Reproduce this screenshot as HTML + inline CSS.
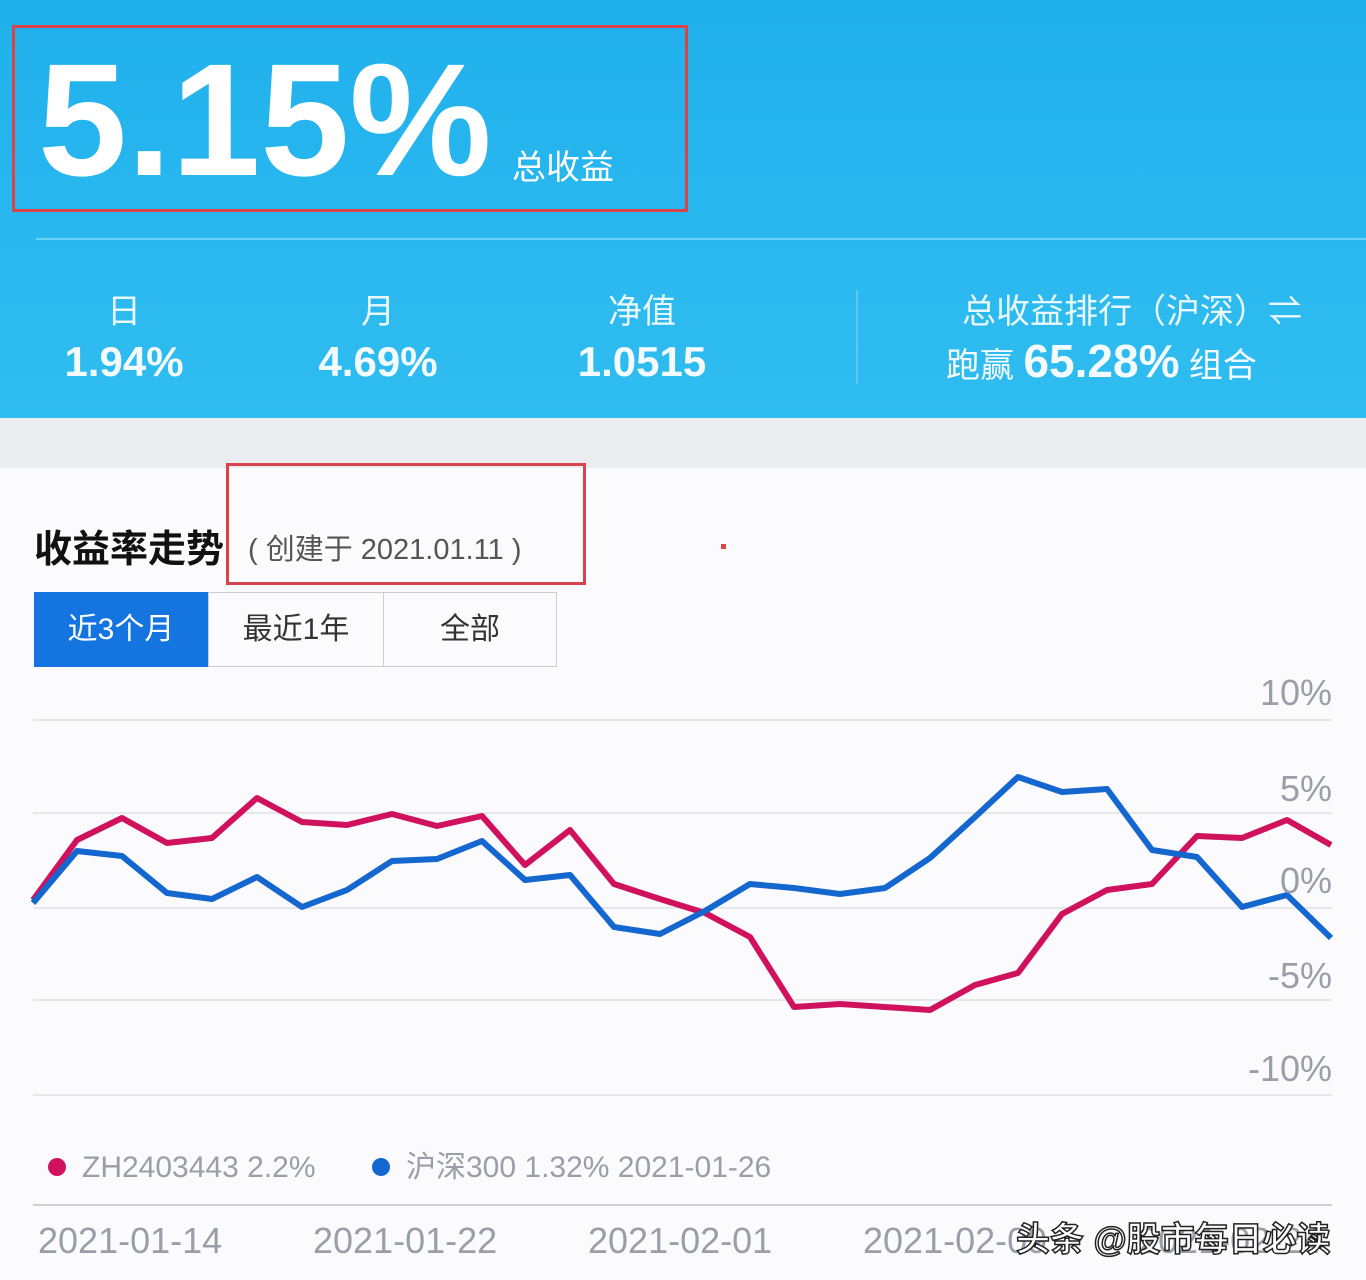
<!DOCTYPE html>
<html><head><meta charset="utf-8"><style>
body{margin:0;width:1366px;height:1280px;overflow:hidden;font-family:"Liberation Sans","Noto Sans CJK SC",sans-serif;background:#fbfbfd;position:relative}
.a{position:absolute;white-space:nowrap}
.hdr{position:absolute;left:0;top:0;width:1366px;height:418px;background:linear-gradient(180deg,#20b0ec,#30bdf0)}
.w{color:#fff}
.lab{font-size:34px;color:#eaf8ff;text-align:center;width:240px}
.val{font-size:42px;font-weight:bold;color:#f4fbff;text-align:center;width:260px}
.yl{font-size:36px;color:#9a9ea6;right:34px}
.xl{font-size:36px;color:#9a9ea6}
</style></head><body>
<div class="hdr"></div>
<div class="a" style="left:12px;top:25px;width:670px;height:181px;border:3px solid #d9434a"></div>
<div class="a w" style="left:38px;top:28px;font-size:160px;font-weight:bold;letter-spacing:0px">5.15%</div>
<div class="a w" style="left:512px;top:140px;font-size:34px">总收益</div>
<div class="a" style="left:36px;top:238px;width:1330px;height:2px;background:#6fd0f5"></div>
<div class="a lab" style="left:4px;top:284px">日</div>
<div class="a lab" style="left:258px;top:284px">月</div>
<div class="a lab" style="left:522px;top:284px">净值</div>
<div class="a val" style="left:-6px;top:338px">1.94%</div>
<div class="a val" style="left:248px;top:338px">4.69%</div>
<div class="a val" style="left:512px;top:338px">1.0515</div>
<div class="a" style="left:856px;top:290px;width:2px;height:94px;background:#5fc8f2"></div>
<div class="a" style="left:962px;top:284px;font-size:34px;color:#eaf8ff">总收益排行（沪深）⇌</div>
<div class="a" style="left:946px;top:334px;font-size:34px;color:#f4fbff">跑赢 <b style="font-size:46px">65.28%</b> 组合</div>
<div class="a" style="left:0;top:418px;width:1366px;height:50px;background:#ebecf0"></div>
<div class="a" style="left:226px;top:463px;width:354px;height:116px;border:3px solid #d9434a"></div>
<div class="a" style="left:34px;top:518px;font-size:38px;font-weight:bold;color:#111">收益率走势</div>
<div class="a" style="left:248px;top:526px;font-size:29px;color:#555">( 创建于 2021.01.11 )</div>
<div class="a" style="left:721px;top:544px;width:5px;height:5px;background:#d9434a"></div>
<div class="a" style="left:34px;top:592px;width:174px;height:75px;background:#1474e0;color:#fff;font-size:30px;text-align:center;line-height:75px">近3个月</div>
<div class="a" style="left:208px;top:592px;width:174px;height:73px;border:1px solid #ccc;color:#333;font-size:30px;text-align:center;line-height:73px">最近1年</div>
<div class="a" style="left:383px;top:592px;width:172px;height:73px;border:1px solid #ccc;color:#333;font-size:30px;text-align:center;line-height:73px">全部</div>
<svg class="a" style="left:0;top:0" width="1366" height="1280">
<g stroke="#e6e7ea" stroke-width="2">
<line x1="33" y1="720" x2="1332" y2="720"/><line x1="33" y1="813" x2="1332" y2="813"/><line x1="33" y1="908" x2="1332" y2="908"/><line x1="33" y1="1000" x2="1332" y2="1000"/><line x1="33" y1="1095" x2="1332" y2="1095"/></g>
<line x1="33" y1="1205" x2="1332" y2="1205" stroke="#cfd0d4" stroke-width="2"/>
<polyline fill="none" stroke="#d0115e" stroke-width="6" stroke-linejoin="round" points="33,900 77,840 122,818 167,843 212,838 257,798 302,822 347,825 392,814 437,826 482,816 525,865 570,830 614,884 660,899 705,913 750,937 794,1007 840,1004 885,1007 930,1010 975,985 1018,973 1062,914 1107,890 1152,884 1197,836 1242,838 1287,820 1331,845"/>
<polyline fill="none" stroke="#1367cf" stroke-width="6" stroke-linejoin="round" points="33,903 77,851 122,856 167,893 212,899 257,877 302,907 347,890 392,861 437,859 482,841 525,880 570,875 614,927 660,934 705,911 750,884 794,888 840,894 885,888 930,858 975,817 1018,777 1062,792 1107,789 1152,850 1197,857 1242,907 1287,895 1331,938"/>
<circle cx="57" cy="1167" r="9" fill="#d0115e"/><circle cx="381" cy="1167" r="9" fill="#1367cf"/>
</svg>
<div class="a yl" style="top:672px">10%</div>
<div class="a yl" style="top:768px">5%</div>
<div class="a yl" style="top:860px">0%</div>
<div class="a yl" style="top:955px">-5%</div>
<div class="a yl" style="top:1048px">-10%</div>
<div class="a" style="left:82px;top:1151px;font-size:30px;color:#9a9ea6">ZH2403443 2.2%</div>
<div class="a" style="left:406px;top:1151px;font-size:30px;color:#9a9ea6;font-family:'Liberation Sans','Noto Sans CJK SC',sans-serif;line-height:34px">沪深300 1.32% 2021-01-26</div>
<div class="a xl" style="left:38px;top:1220px">2021-01-14</div>
<div class="a xl" style="left:313px;top:1220px">2021-01-22</div>
<div class="a xl" style="left:588px;top:1220px">2021-02-01</div>
<div class="a xl" style="left:863px;top:1220px">2021-02-09</div>
<div class="a xl" style="left:1138px;top:1220px">2021-02-24</div>
<div class="a" style="left:1016px;top:1212px;font-size:34px;color:#fff;-webkit-text-stroke:1.5px #222;font-weight:bold">头条 @股市每日必读</div>
</body></html>
